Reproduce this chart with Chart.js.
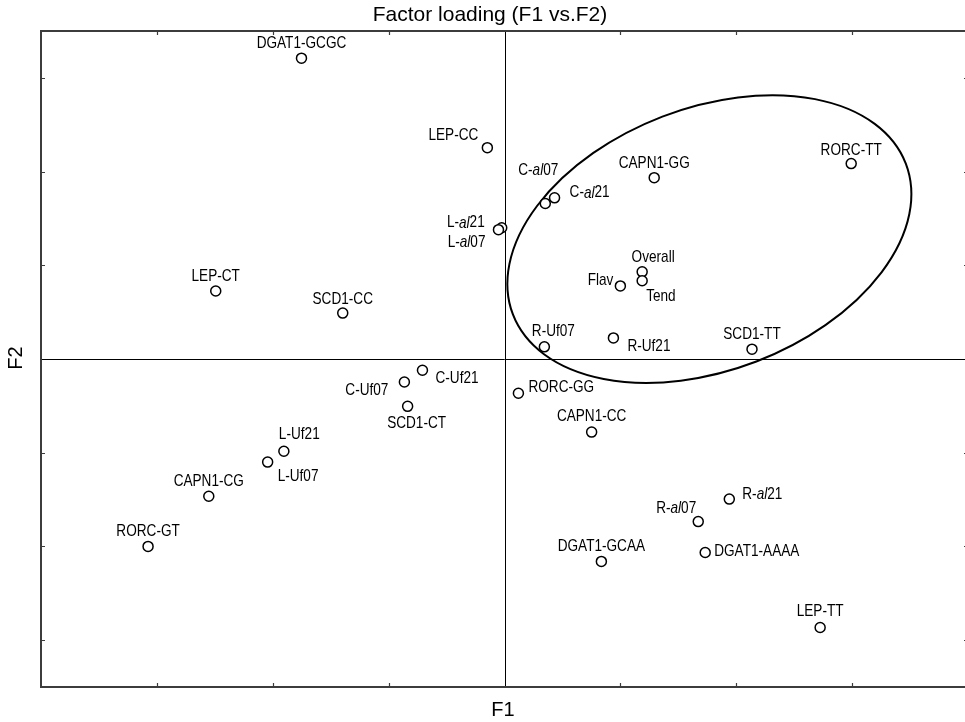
<!DOCTYPE html>
<html lang="en">

<head>
  <meta charset="UTF-8">
  <title>Factor loading (F1 vs.F2)</title>
  <script src="https://cdn.jsdelivr.net/npm/chart.js"></script>
  <style>
    html, body { margin: 0; padding: 0; overflow: hidden; background: #fff; }
  </style>
</head>

<body>
  <canvas id="loadingChart" width="975" height="722"></canvas>
  <script>
    // Variables / genotypes
    const names = [
      'DGAT1-GCGC', 'LEP-CC', 'C-al07', 'C-al21', 'CAPN1-GG', 'RORC-TT',
      'L-al21', 'L-al07', 'Overall', 'Tend', 'Flav', 'LEP-CT', 'SCD1-CC',
      'R-Uf07', 'R-Uf21', 'SCD1-TT', 'C-Uf21', 'C-Uf07', 'SCD1-CT', 'RORC-GG',
      'CAPN1-CC', 'L-Uf21', 'L-Uf07', 'CAPN1-CG', 'RORC-GT', 'R-al21', 'R-al07',
      'DGAT1-AAAA', 'DGAT1-GCAA', 'LEP-TT'
    ];
    // Loadings on F1
    const f1 = [
      -0.438, -0.037, 0.088, 0.108, 0.323, 0.748,
      -0.006, -0.013, 0.297, 0.297, 0.250, -0.623, -0.349,
      0.086, 0.235, 0.534, -0.177, -0.216, -0.209, 0.030,
      0.188, -0.476, -0.511, -0.638, -0.769, 0.485, 0.418,
      0.433, 0.209, 0.681
    ];
    // Loadings on F2
    const f2 = [
      0.642, 0.451, 0.332, 0.344, 0.387, 0.417,
      0.280, 0.276, 0.186, 0.167, 0.156, 0.145, 0.098,
      0.026, 0.045, 0.021, -0.024, -0.049, -0.101, -0.073,
      -0.156, -0.197, -0.220, -0.293, -0.400, -0.299, -0.347,
      -0.413, -0.432, -0.573
    ];
    // axis tick values (no tick labels in the figure)
    const xTicks = [-0.75, -0.5, -0.25, 0.25, 0.5, 0.75];
    const yTicks = [-0.6, -0.4, -0.2, 0.2, 0.4, 0.6];

    // label placement next to each point: [dx, dy, align]
    const labelPlace = [
      [0, -15, 'center'], [-9, -12, 'right'], [-7, -33, 'center'], [15, -5, 'left'], [0, -14, 'center'], [0, -13, 'center'],
      [-17, -5, 'right'], [-13, 13, 'right'], [11, -15, 'center'], [4, 16, 'left'], [-7, -6, 'right'], [0, -15, 'center'], [0, -14, 'center'],
      [9, -16, 'center'], [14, 8, 'left'], [0, -15, 'center'], [13, 8, 'left'], [-16, 8, 'right'], [9, 17, 'center'], [10, -6, 'left'],
      [0, -16, 'center'], [-5, -17, 'left'], [10, 14, 'left'], [0, -15, 'center'], [0, -15, 'center'], [13, -5, 'left'], [-2, -13, 'right'],
      [9, -1, 'left'], [0, -15, 'center'], [0, -16, 'center']
    ];

    // ellipse around the grouped variables (data units, angle in degrees)
    const ellipse = { cx: 0.442, cy: 0.256, rx: 0.454, ry: 0.280, angle: 21 };

    const FONT = '"Liberation Sans", Arial, sans-serif';

    function labelParts(txt) {
      const m = txt.match(/^(.*-)(al)(\d+)$/);
      if (!m) return [{ t: txt, it: false }];
      return [{ t: m[1], it: false }, { t: m[2], it: true }, { t: m[3], it: false }];
    }

    const figurePlugin = {
      id: 'figure',
      beforeDatasetsDraw(chart) {
        const { ctx, chartArea: a, scales: { x, y } } = chart;
        ctx.save();
        // zero lines
        ctx.strokeStyle = '#000';
        ctx.lineWidth = 1;
        const x0 = Math.round(x.getPixelForValue(0)) + 0.5;
        const y0 = Math.round(y.getPixelForValue(0)) + 0.5;
        ctx.beginPath();
        ctx.moveTo(x0, a.top); ctx.lineTo(x0, a.bottom);
        ctx.moveTo(a.left, y0); ctx.lineTo(a.right, y0);
        ctx.stroke();

        // frame
        ctx.strokeStyle = '#3c3c3c';
        ctx.lineWidth = 2;
        ctx.strokeRect(a.left, a.top, a.right - a.left, a.bottom - a.top);

        // inward ticks
        ctx.lineWidth = 1.2;
        ctx.beginPath();
        xTicks.forEach(v => {
          const px = Math.round(x.getPixelForValue(v)) + 0.5;
          ctx.moveTo(px, a.top); ctx.lineTo(px, a.top + 4);
          ctx.moveTo(px, a.bottom); ctx.lineTo(px, a.bottom - 4);
        });
        yTicks.forEach(v => {
          const py = Math.round(y.getPixelForValue(v)) + 0.5;
          ctx.moveTo(a.left, py); ctx.lineTo(a.left + 4, py);
          ctx.moveTo(a.right, py); ctx.lineTo(a.right - 4, py);
        });
        ctx.stroke();

        // ellipse
        const sx = x.getPixelForValue(1) - x.getPixelForValue(0);
        const sy = y.getPixelForValue(0) - y.getPixelForValue(1);
        ctx.strokeStyle = '#000';
        ctx.lineWidth = 2;
        ctx.beginPath();
        ctx.ellipse(x.getPixelForValue(ellipse.cx), y.getPixelForValue(ellipse.cy),
          ellipse.rx * sx, ellipse.ry * sy, -ellipse.angle * Math.PI / 180, 0, 2 * Math.PI);
        ctx.stroke();
        ctx.restore();
      },
      afterDatasetsDraw(chart) {
        const { ctx, scales: { x, y } } = chart;
        ctx.save();
        ctx.fillStyle = '#000';
        ctx.textBaseline = 'middle';
        const squeeze = 0.8;
        names.forEach((name, i) => {
          const [dx, dy, align] = labelPlace[i];
          const parts = labelParts(name);
          let w = 0;
          parts.forEach(p => {
            ctx.font = (p.it ? 'italic ' : '') + '17px ' + FONT;
            p.w = ctx.measureText(p.t).width;
            w += p.w;
          });
          const px = x.getPixelForValue(f1[i]) + dx;
          const py = y.getPixelForValue(f2[i]) + dy;
          let start = px;
          if (align === 'center') start = px - w * squeeze / 2;
          if (align === 'right') start = px - w * squeeze;
          ctx.save();
          ctx.translate(start, py);
          ctx.scale(squeeze, 1);
          ctx.textAlign = 'left';
          let cx = 0;
          parts.forEach(p => {
            ctx.font = (p.it ? 'italic ' : '') + '17px ' + FONT;
            ctx.fillText(p.t, cx, 0);
            cx += p.w;
          });
          ctx.restore();
        });

        // title and axis titles
        ctx.textAlign = 'center';
        ctx.font = '21px ' + FONT;
        ctx.fillText('Factor loading (F1 vs.F2)', 490, 15);
        ctx.font = '20px ' + FONT;
        ctx.fillText('F1', 503, 710);
        ctx.translate(16, 358);
        ctx.rotate(-Math.PI / 2);
        ctx.fillText('F2', 0, 0);
        ctx.restore();
      }
    };

    const ctx = document.getElementById('loadingChart').getContext('2d');
    const loadingChart = new Chart(ctx, {
      type: 'scatter',
      data: {
        datasets: [{
          label: 'Factor loading',
          data: names.map((n, i) => ({ x: f1[i], y: f2[i] })),
          pointRadius: 5,
          pointHoverRadius: 5,
          pointBorderWidth: 1.5,
          borderColor: '#000',
          backgroundColor: '#fff'
        }]
      },
      options: {
        responsive: false,
        animation: false,
        layout: { padding: { left: 41, right: 7, top: 31, bottom: 35 } },
        plugins: {
          legend: { display: false },
          title: { display: false },
          tooltip: { enabled: false }
        },
        scales: {
          x: { type: 'linear', min: -1, max: 1, display: false },
          y: { type: 'linear', min: -0.7, max: 0.7, display: false }
        }
      },
      plugins: [figurePlugin]
    });
  </script>
</body>

</html>
